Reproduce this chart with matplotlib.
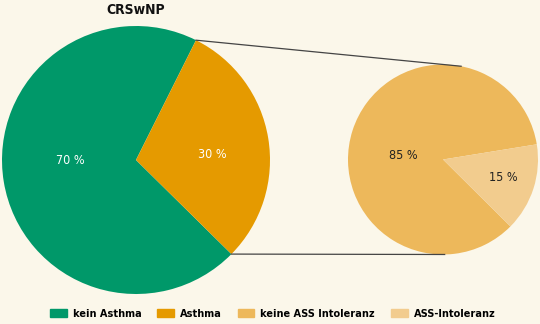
import numpy as np
import matplotlib
matplotlib.use("Agg")
import matplotlib.pyplot as plt
from matplotlib.patches import Patch

plt.rcParams['font.family'] = ['DejaVu Sans']
plt.rcParams['font.stretch'] = 'condensed'

title = "CRSwNP"
main_labels = ["kein Asthma", "Asthma"]
main_values = [70, 30]
sub_labels = ["keine ASS Intoleranz", "ASS-Intoleranz"]
sub_values = [85, 15]

main_colors = ["#009869", "#e59a00"]
sub_colors = ["#edb85b", "#f2cc8e"]
bg = "#fbf7ea"

fig = plt.figure(figsize=(5.4, 3.24), dpi=100, facecolor=bg)
ax = fig.add_axes([0, 0, 1, 1])
ax.set_facecolor(bg)

# pixel-like coordinates, y going up
big_c, big_r = (136, 164), 134
small_c, small_r = (443, 164.5), 95

big_start = 63.4
small_start = 9.2
w1, _ = ax.pie(main_values, colors=main_colors, startangle=big_start,
               center=big_c, radius=big_r, frame=True,
               wedgeprops=dict(linewidth=0))
w2, _ = ax.pie(sub_values, colors=sub_colors, startangle=small_start,
               center=small_c, radius=small_r, frame=True,
               wedgeprops=dict(linewidth=0))

ax.set_xlim(0, 540)
ax.set_ylim(0, 324)
ax.set_aspect('equal')
ax.axis('off')

# percent labels
def lbl(c, r, ang, dist, v, color):
    a = np.deg2rad(ang)
    ax.text(c[0] + dist * r * np.cos(a), c[1] + dist * r * np.sin(a), f"{v} %",
            ha='center', va='center', color=color, fontsize=9)

lbl(big_c, big_r, 180, 0.49, main_values[0], 'white')
lbl(big_c, big_r, 4.5, 0.57, main_values[1], 'white')
lbl(small_c, small_r, 174, 0.42, sub_values[0], '#222222')
lbl(small_c, small_r, -17, 0.66, sub_values[1], '#222222')

# connecting lines from the Asthma wedge to the sub pie
t1 = np.deg2rad(w1[1].theta1)
t2 = np.deg2rad(w1[1].theta2)
s_top = np.deg2rad(79)
s_bot = np.deg2rad(-89)
ax.plot([big_c[0] + big_r * np.cos(t2), small_c[0] + small_r * np.cos(s_top)],
        [big_c[1] + big_r * np.sin(t2), small_c[1] + small_r * np.sin(s_top)],
        color='#444444', lw=0.9)
ax.plot([big_c[0] + big_r * np.cos(t1), small_c[0] + small_r * np.cos(s_bot)],
        [big_c[1] + big_r * np.sin(t1), small_c[1] + small_r * np.sin(s_bot)],
        color='#444444', lw=0.9)

ax.text(big_c[0], 314, title, ha='center', va='center', fontsize=10,
        fontweight='bold', color='#111111')

handles = [Patch(color=c, label=l) for c, l in
           zip(main_colors + sub_colors, main_labels + sub_labels)]
leg = fig.legend(handles=handles, loc='center', bbox_to_anchor=(0.505, 0.032),
                 ncol=4, frameon=False, handlelength=1.55,
                 handleheight=0.85, columnspacing=1.45, handletextpad=0.55,
                 prop=dict(weight='bold', size=7.8, stretch='condensed'))

fig.savefig("out.png", dpi=100, facecolor=bg)
